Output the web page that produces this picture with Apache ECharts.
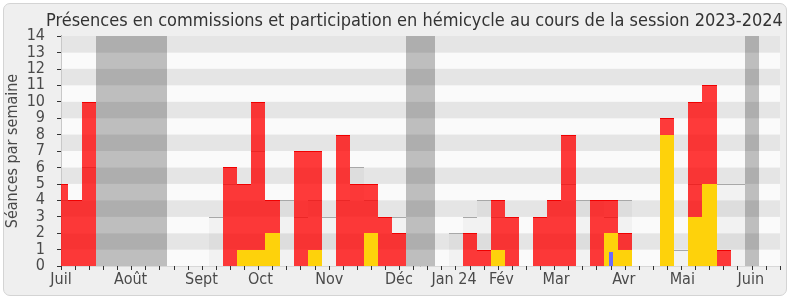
<!DOCTYPE html>
<html>
<head>
<meta charset="utf-8">
<script src="https://cdn.jsdelivr.net/npm/echarts@6/dist/echarts.min.js"></script>
<style>
  html, body { margin: 0; padding: 0; background: #fff; }
  #frame { position: absolute; left: 3px; top: 3px; width: 782px; height: 291px;
    border: 1px solid #d4d4d4; border-radius: 7px; background: #efefef; }
  #chart { position: absolute; left: 0; top: 0; width: 790px; height: 300px; }
</style>
</head>
<body>
<div id="frame"></div>
<div id="chart"></div>
<script>
// Présences hebdomadaires d'un député, session 2023-2024 (une barre par semaine)
var FONT = '"DejaVu Sans Condensed", "DejaVu Sans", sans-serif';

// séances de commission par semaine (rouge)
var presences = [5, 4, 10, 0, 0, 0, 0, 0, 0, 0, 0, 0, 6, 5, 10, 4, 0, 7, 7, 0, 8, 5, 5, 3, 2, 0,
  0, 0, 0, 2, 1, 4, 3, 0, 3, 4, 8, 0, 4, 4, 2, 0, 0, 9, 0, 10, 11, 1, 0, 0, 0, 0];
// médiane de l'ensemble des députés (gris)
var mediane = [4, 4, 6, 0, 0, 0, 0, 0, 0, 0, 0, 3, 5, 5, 7, 4, 4, 3, 4, 3, 4, 6, 4, 3, 3, 0,
  0, 0, 2, 3, 4, 3, 3, 0, 3, 4, 5, 4, 4, 3, 4, 0, 0, 1, 1, 5, 5, 5, 5, 0, 0, 0];
// participations en hémicycle (jaune)
var hemicycle = [0, 0, 0, 0, 0, 0, 0, 0, 0, 0, 0, 0, 0, 1, 1, 2, 0, 0, 1, 0, 0, 0, 2, 0, 0, 0,
  0, 0, 0, 0, 0, 1, 0, 0, 0, 0, 0, 0, 0, 2, 1, 0, 0, 8, 0, 3, 5, 0, 0, 0, 0, 0];
// questions orales (bleu)
var questions = [0, 0, 0, 0, 0, 0, 0, 0, 0, 0, 0, 0, 0, 0, 0, 0, 0, 0, 0, 0, 0, 0, 0, 0, 0, 0,
  0, 0, 0, 0, 0, 0, 0, 0, 0, 0, 0, 0, 0, 0.85, 0, 0, 0, 0, 0, 0, 0, 0, 0, 0, 0, 0];
// vacances parlementaires (début, fin en semaines)
var vacances = [[2.5, 7.5], [24.5, 26.5], [48.5, 49.5]];

var moisNoms = ["Juil", "Août", "Sept", "Oct", "Nov", "Déc", "Jan 24", "Fév", "Mar", "Avr", "Mai", "Juin"];
var moisPos = [0, 4.94, 9.96, 14.14, 19.03, 23.97, 27.88, 31.23, 35.12, 39.92, 44.07, 48.93];

var semaines = presences.map(function (v, i) { return i; });
function pairs(arr) { return arr.map(function (v, i) { return [i, v]; }); }

function barItem(fill, stroke, halfW) {
  return function (params, api) {
    var x = api.value(0), v = api.value(1);
    if (!v) return;
    var a = api.coord([x - halfW, v]);
    var b = api.coord([x + halfW, 0]);
    var cs = params.coordSys;
    var x0 = Math.round(a[0]), x1 = Math.round(b[0]);
    var y0 = Math.round(a[1]), y1 = Math.round(b[1]);
    var r = echarts.graphic.clipRectByRect(
      { x: x0, y: y0, width: x1 - x0, height: y1 - y0 },
      { x: cs.x, y: cs.y, width: cs.width, height: cs.height });
    if (!r) return;
    var kids = [{ type: "rect", shape: r, style: { fill: fill } }];
    if (stroke) {
      kids.push({ type: "line", shape: { x1: r.x, y1: y0 + 0.5, x2: r.x + r.width, y2: y0 + 0.5 },
        style: { stroke: stroke, lineWidth: 1 } });
    }
    return { type: "group", children: kids };
  };
}

function vacItem(params, api) {
  var a = api.coord([api.value(0), 0]);
  var b = api.coord([api.value(1), 0]);
  var cs = params.coordSys;
  return { type: "rect", shape: { x: Math.round(a[0]), y: cs.y, width: Math.round(b[0]) - Math.round(a[0]), height: cs.height },
    style: { fill: "rgba(0,0,0,0.24)" } };
}

var chart = echarts.init(document.getElementById("chart"), null, { renderer: "canvas" });
chart.setOption({
  animation: false,
  backgroundColor: "transparent",
  title: {
    text: "Présences en commissions et participation en hémicycle au cours de la session 2023-2024",
    left: 41, top: 7,
    textStyle: { fontFamily: FONT, fontSize: 18, fontWeight: "normal", color: "#333" }
  },
  grid: { left: 61, right: 10, top: 36, bottom: 34, outerBoundsMode: "none", containLabel: false },
  xAxis: [{
    type: "value", min: 0, max: 51, position: "bottom",
    axisLine: { show: true, lineStyle: { color: "#333", width: 1 } },
    axisTick: { show: true, customValues: semaines, length: 4, inside: false, lineStyle: { color: "#333" } },
    axisLabel: {
      customValues: moisPos, margin: 6, fontFamily: FONT, fontSize: 16, color: "#4a4a4a",
      formatter: function (v) {
        var best = 0;
        moisPos.forEach(function (p, i) { if (Math.abs(p - v) < Math.abs(moisPos[best] - v)) best = i; });
        return moisNoms[best];
      }
    },
    splitLine: { show: false }
  }, {
    type: "value", min: 0, max: 51, position: "top",
    axisLine: { show: true, lineStyle: { color: "#d8d8d8", width: 1 } },
    axisTick: { show: true, customValues: semaines, length: 2, inside: true, lineStyle: { color: "#333" } },
    axisLabel: { show: false }, splitLine: { show: false }
  }],
  yAxis: [{
    type: "value", min: 0, max: 14, interval: 1,
    name: "Séances par semaine", nameLocation: "middle", nameGap: 40, nameMoveOverlap: false,
    nameTextStyle: { fontFamily: FONT, fontSize: 16, color: "#4a4a4a" },
    axisLine: { show: true, lineStyle: { color: "#333", width: 1 } },
    axisTick: { show: true, length: 4, inside: false, lineStyle: { color: "#333" } },
    axisLabel: { margin: 16, fontFamily: FONT, fontSize: 16, color: "#4a4a4a" },
    splitLine: { show: false },
    splitArea: { show: true, areaStyle: { color: ["#fafafa", "#e5e5e5"] } }
  }, {
    type: "value", min: 0, max: 14, position: "right",
    axisLine: { show: true, lineStyle: { color: "#c8c8c8" } },
    axisTick: { show: false }, axisLabel: { show: false }, splitLine: { show: false }
  }],
  series: [
    { name: "Vacances", type: "custom", renderItem: vacItem, data: vacances, encode: { x: [0, 1] }, z: 1 },
    { name: "Médiane", type: "custom", data: pairs(mediane), encode: { x: 0, y: 1 },
      renderItem: barItem("rgba(0,0,0,0.03)", "#a8a8a8", 0.5), z: 2 },
    { name: "Présences en commission", type: "custom", data: pairs(presences), encode: { x: 0, y: 1 },
      renderItem: barItem("rgba(255,0,0,0.77)", "#f00000", 0.5), z: 3 },
    { name: "Participations en hémicycle", type: "custom", data: pairs(hemicycle), encode: { x: 0, y: 1 },
      renderItem: barItem("#fed20b", null, 0.5), z: 4 },
    { name: "Questions orales", type: "custom", data: pairs(questions), encode: { x: 0, y: 1 },
      renderItem: barItem("#6a6aff", null, 0.14), z: 5 }
  ]
});
</script>
</body>
</html>
